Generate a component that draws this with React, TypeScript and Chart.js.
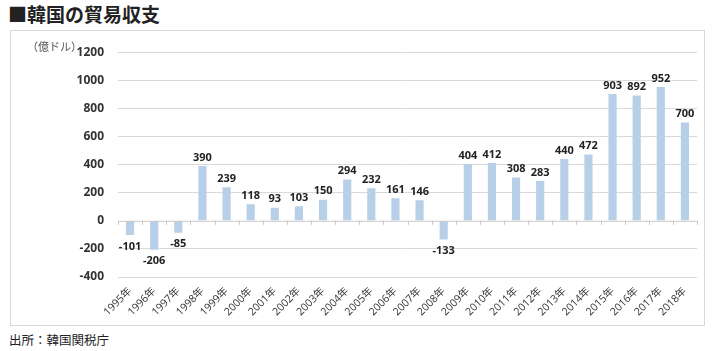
import React, { useEffect, useRef } from "react";
import { Chart, registerables } from "chart.js";
Chart.register(...registerables);

const categories = ["1995年","1996年","1997年","1998年","1999年","2000年","2001年","2002年","2003年","2004年","2005年","2006年","2007年","2008年","2009年","2010年","2011年","2012年","2013年","2014年","2015年","2016年","2017年","2018年"];
const balance = [-101,-206,-85,390,239,118,93,103,150,294,232,161,146,-133,404,412,308,283,440,472,903,892,952,700];
const yMin = -400;
const yMax = 1200;
const yStep = 200;

const FONT = "'Open Sans', 'Noto Sans CJK JP', sans-serif";
const JP = "'Noto Sans CJK JP', sans-serif";

const valueLabels = {
  id: "valueLabels",
  afterDatasetsDraw(chart: any) {
    const ctx = chart.ctx;
    const meta = chart.getDatasetMeta(0);
    ctx.save();
    ctx.font = `bold 11px ${FONT}`;
    ctx.fillStyle = "#222";
    ctx.textAlign = "center";
    meta.data.forEach((bar: any, i: number) => {
      const v = balance[i];
      if (v >= 0) {
        ctx.textBaseline = "bottom";
        ctx.fillText(String(v), bar.x, bar.y - 3);
      } else {
        ctx.textBaseline = "top";
        ctx.fillText(String(v), bar.x, bar.y + 6);
      }
    });
    ctx.restore();
  },
};

const zeroAxis = {
  id: "zeroAxis",
  afterDatasetsDraw(chart: any) {
    const ctx = chart.ctx;
    const y = chart.scales.y;
    const y0 = y.getPixelForValue(0);
    ctx.save();
    ctx.strokeStyle = "#c8c8c8";
    ctx.lineWidth = 1;
    ctx.beginPath();
    ctx.moveTo(chart.chartArea.left, y0 + 0.5);
    ctx.lineTo(chart.chartArea.right, y0 + 0.5);
    const n = categories.length;
    const w = (chart.chartArea.right - chart.chartArea.left) / n;
    for (let i = 0; i <= n; i++) {
      const px = Math.round(chart.chartArea.left + i * w) + 0.5;
      ctx.moveTo(px, y0);
      ctx.lineTo(px, y0 + 4);
    }
    ctx.stroke();
    ctx.restore();
  },
};

export default function App() {
  const ref = useRef<HTMLCanvasElement>(null);
  useEffect(() => {
    const chart = new Chart(ref.current!, {
      type: "bar",
      data: {
        labels: categories,
        datasets: [{
          data: balance,
          backgroundColor: "#b7d0e8",
          barPercentage: 0.34,
          categoryPercentage: 1,
        }],
      },
      options: {
        animation: false,
        responsive: false,
        maintainAspectRatio: false,
        layout: { padding: { top: 15, right: 7, left: 0, bottom: 0 } },
        plugins: { legend: { display: false }, tooltip: { enabled: false } },
        scales: {
          x: {
            grid: { display: false, drawTicks: false },
            border: { display: false },
            ticks: {
              minRotation: 45,
              maxRotation: 45,
              autoSkip: false,
              color: "#333",
              font: { family: FONT, size: 10.5 },
              padding: 8,
            },
            afterFit(scale: any) { scale.height = 48; },
          },
          y: {
            min: yMin,
            max: yMax,
            grid: {
              color: (c: any) => (c.tick && c.tick.value === 0 ? "rgba(0,0,0,0)" : "#d9d9d9"),
              drawTicks: false,
            },
            border: { display: false },
            ticks: {
              stepSize: yStep,
              color: "#333",
              font: { family: FONT, size: 12, weight: "bold" },
              padding: 14,
              callback: (v: any) => String(v),
            },
            afterFit(scale: any) { scale.width = 107; },
          },
        },
      },
      plugins: [zeroAxis, valueLabels],
    });
    return () => chart.destroy();
  }, []);

  return (
    <div style={{ position: "absolute", left: 0, top: 0, width: 714, height: 351, background: "#fff", overflow: "hidden" }}>
      <div style={{ position: "absolute", left: 8, top: 1, fontFamily: JP, fontWeight: 700, fontSize: 19, color: "#222", lineHeight: "26px" }}>■韓国の貿易収支</div>
      <div style={{ position: "absolute", left: 10, top: 30, width: 693, height: 294, border: "1px solid #d9d9d9" }}>
        <canvas ref={ref} width={693} height={294} style={{ position: "absolute", left: 0, top: 0 }} />
        <div style={{ position: "absolute", left: 16, top: 7, fontFamily: JP, fontSize: 11, color: "#555" }}>（億ドル）</div>
      </div>
      <div style={{ position: "absolute", left: 9, top: 330, fontFamily: JP, fontSize: 12.5, color: "#222" }}>出所：韓国関税庁</div>
    </div>
  );
}
